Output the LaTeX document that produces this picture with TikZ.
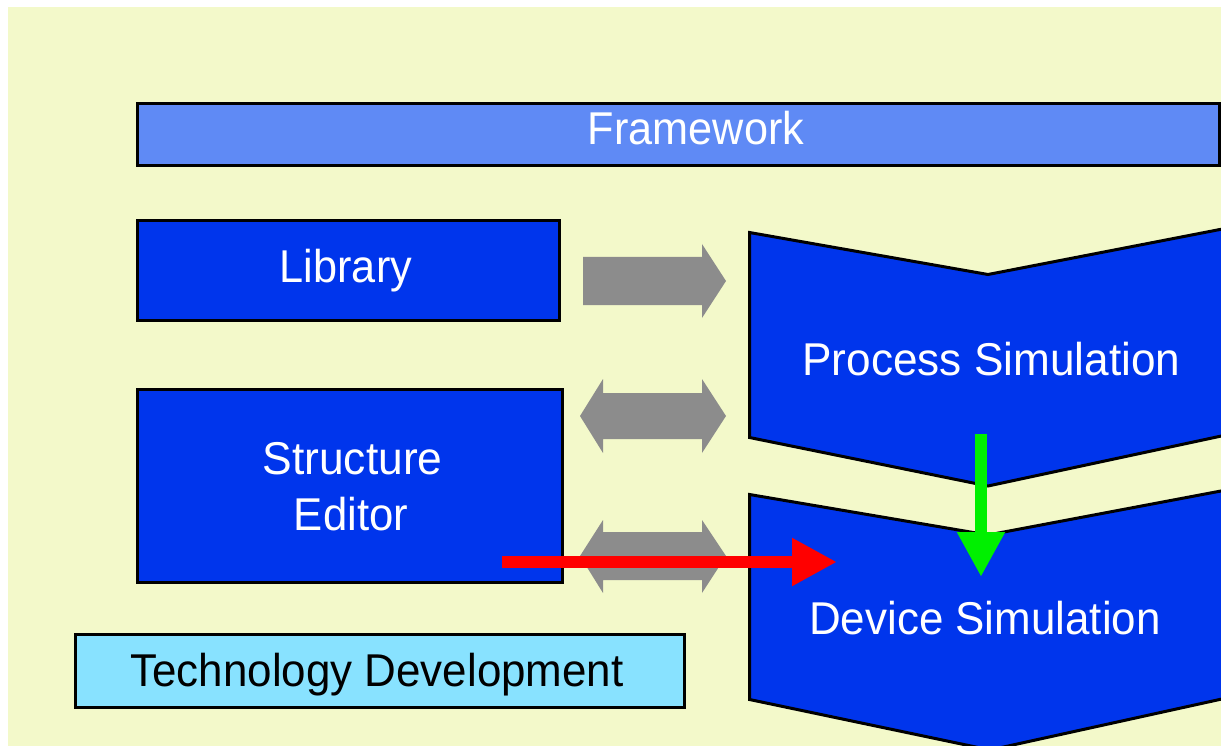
\documentclass[tikz,border=0pt]{standalone}
\usepackage{fontspec}
\setmainfont{Liberation Sans}
\usetikzlibrary{arrows.meta}

\definecolor{bgyellow}{HTML}{F3F9CA}
\definecolor{frameblue}{HTML}{5F8AF5}
\definecolor{deepblue}{HTML}{0035EC}
\definecolor{techcyan}{HTML}{88E2FF}
\definecolor{blockgray}{HTML}{8C8C8C}
\definecolor{flowred}{HTML}{FF0000}
\definecolor{flowgreen}{HTML}{00F000}

% horizontally condensed label text
\newcommand\squeezed[2][0.94]{\scalebox{#1}[1]{#2}}

\begin{document}
\begin{tikzpicture}[x=1pt,y=-1pt,
  box/.style={draw=black, line width=3pt, inner sep=0pt, outer sep=0pt, anchor=north west},
  chevron/.style={draw=black, fill=deepblue, line width=3pt, line join=miter},
  lbl/.style={anchor=base, inner sep=0pt, text=white, font=\fontsize{46}{52}\selectfont},
  darklbl/.style={lbl, text=black},
  blockarrow/.style={fill=blockgray},
  flow/.style={line width=12pt, -{Triangle[length=45pt,width=45pt]}}]

\useasboundingbox (0,0) rectangle (1221,746);
\clip (0,0) rectangle (1221,746);

% backdrop
\fill[bgyellow] (8,7) rectangle (1221,746);

% framework bar
\node[box, fill=frameblue, minimum width=1082pt, minimum height=62pt] (fw) at (137.5,103.5) {};
\node[lbl] (fw-t) at (696,145) {\squeezed{Framework}};

% library
\node[box, fill=deepblue, minimum width=422pt, minimum height=100pt] (lib) at (137.5,220.5) {};
\node[lbl] (lib-t) at (346,283) {\squeezed{Library}};

% structure editor
\node[box, fill=deepblue, minimum width=425pt, minimum height=193pt] (se) at (137.5,389.5) {};
\node[lbl] (se-t1) at (352.5,474) {\squeezed[0.965]{Structure}};
\node[lbl] (se-t2) at (351,530) {\squeezed[0.95]{Editor}};

% technology development
\node[box, fill=techcyan, minimum width=609pt, minimum height=73pt] (td) at (75.5,634.5) {};
\node[darklbl] (td-t) at (377,686) {\squeezed[0.955]{Technology Development}};

% process simulation chevron
\draw[chevron] (749.5,232.5) -- (988,274.5) -- (1240,225.6) -- (1240,432)
  -- (988,486) -- (749.5,437.5) -- cycle;
\node[lbl] (ps-t) at (991.5,375) {\squeezed[0.96]{Process Simulation}};

% device simulation chevron
\draw[chevron] (749.5,494.5) -- (988,535) -- (1240,487.4) -- (1240,695)
  -- (990,750) -- (749.5,699.5) -- cycle;
\node[lbl] (ds-t) at (985,634) {\squeezed[0.955]{Device Simulation}};

% gray block arrows between the tools
\fill[blockarrow] (583,257) -- (702,257) -- (702,244) -- (726,281) -- (702,318)
  -- (702,305) -- (583,305) -- cycle;
\fill[blockarrow] (580,416) -- (603,379) -- (603,393) -- (702,393) -- (702,379)
  -- (726,416) -- (702,453) -- (702,439) -- (603,439) -- (603,453) -- cycle;
\fill[blockarrow] (580,556) -- (603,520) -- (603,532) -- (702,532) -- (702,520)
  -- (726,556) -- (702,593) -- (702,580) -- (603,580) -- (603,593) -- cycle;

% data flow arrows
\coordinate (red-start) at (502,562);
\coordinate (red-end) at (837,562);
\draw[flow, flowred] (red-start) -- (red-end);

\coordinate (green-start) at (981,434);
\coordinate (green-end) at (981,577);
\draw[flow, flowgreen] (green-start) -- (green-end);

\end{tikzpicture}
\end{document}
